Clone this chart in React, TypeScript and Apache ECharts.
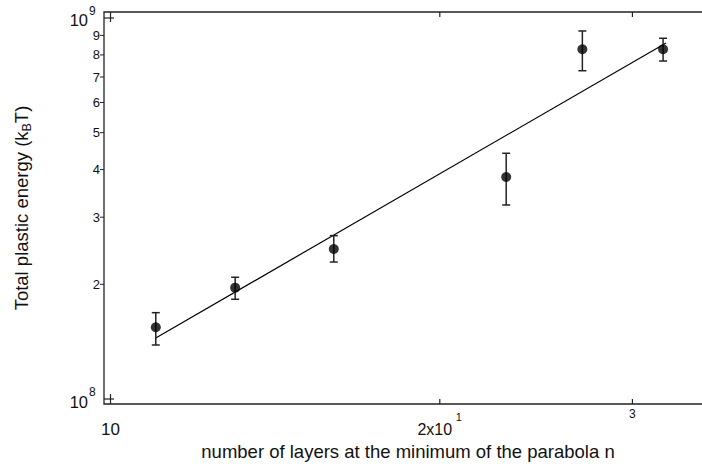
import React, { useEffect, useRef } from "react";
import * as echarts from "echarts";

// ---- data ----
const layersN = [11, 13, 16, 23, 27, 32];
const energy = [1.543e8, 1.96e8, 2.476e8, 3.825e8, 8.28e8, 8.28e8];
const errLow = [1.386e8, 1.827e8, 2.288e8, 3.23e8, 7.27e8, 7.71e8];
const errHigh = [1.685e8, 2.087e8, 2.684e8, 4.415e8, 9.245e8, 8.846e8];
const fitN = [11, 32.2];
const fitE = [1.446e8, 8.6e8];

const yMajorTicks = [1e8, 1e9];
const yMajorExp = ["8", "9"];
const yMinorTicks = [2e8, 3e8, 4e8, 5e8, 6e8, 7e8, 8e8, 9e8];
const yMinorLabels = ["2", "3", "4", "5", "6", "7", "8", "9"];
const xTicks = [10, 20, 30];
const xTickLabels = ["10", "2x10", "3"];
const xTickSups = ["", "1", ""];

const X_MIN = 9.864;
const X_MAX = 35.1;
const Y_MIN = 9.703e7;
const Y_MAX = 1.0368e9;

const FONT = "'Liberation Sans', Arial, sans-serif";
const AX = "#222";

export default function App() {
  const ref = useRef<HTMLDivElement>(null);
  useEffect(() => {
    document.body.style.margin = "0";
    const chart = echarts.init(ref.current!, null, { renderer: "svg" });

    const xLen = [10, 5, 5];
    const xLabelPos = [
      { dx: 0, dy: 25, size: 17 },
      { dx: -5, dy: 25, size: 16 },
      { dx: 0, dy: 10, size: 12 },
    ];

    chart.setOption({
      animation: false,
      grid: {
        left: 104,
        top: 12,
        width: 603,
        height: 392,
        outerBoundsMode: "none",
        containLabel: false,
        show: true,
        borderColor: AX,
        borderWidth: 1.3,
        backgroundColor: "transparent",
      },
      xAxis: {
        type: "log",
        logBase: 10,
        min: X_MIN,
        max: X_MAX,
        axisLine: { show: false },
        axisTick: { show: false },
        axisLabel: { show: false },
        splitLine: { show: false },
        minorTick: { show: false },
      },
      yAxis: {
        type: "log",
        logBase: 10,
        min: Y_MIN,
        max: Y_MAX,
        axisLine: { show: false },
        axisTick: { show: false },
        axisLabel: { show: false },
        splitLine: { show: false },
        minorTick: { show: false },
      },
      graphic: [
        {
          type: "text",
          x: 21,
          y: 208,
          rotation: Math.PI / 2,
          style: {
            text: "Total plastic energy (k{sub|B}T)",
            fontSize: 18.5,
            fontFamily: FONT,
            fill: "#111",
            align: "center",
            verticalAlign: "middle",
            rich: {
              sub: { fontSize: 12.5, fontFamily: FONT, fill: "#111", padding: [11, 0, 0, 0] },
            },
          },
        },
        {
          type: "text",
          x: 408,
          y: 451,
          style: {
            text: "number of layers at the minimum of the parabola n",
            fontSize: 18.5,
            fontFamily: FONT,
            fill: "#111",
            align: "center",
            verticalAlign: "middle",
          },
        },
      ],
      series: [
        {
          type: "line",
          data: fitN.map((n, i) => [n, fitE[i]]),
          symbol: "none",
          lineStyle: { color: "#000", width: 1.2 },
          silent: true,
          z: 3,
        },
        {
          type: "custom",
          data: layersN.map((n, i) => [n, errLow[i], errHigh[i]]),
          clip: false,
          silent: true,
          z: 4,
          renderItem: (params: any, api: any) => {
            const lo = api.coord([api.value(0), api.value(1)]);
            const hi = api.coord([api.value(0), api.value(2)]);
            const st = { stroke: AX, lineWidth: 1.5 };
            return {
              type: "group",
              children: [
                { type: "line", shape: { x1: lo[0], y1: lo[1], x2: hi[0], y2: hi[1] }, style: st },
                { type: "line", shape: { x1: lo[0] - 4, y1: lo[1], x2: lo[0] + 4, y2: lo[1] }, style: st },
                { type: "line", shape: { x1: hi[0] - 4, y1: hi[1], x2: hi[0] + 4, y2: hi[1] }, style: st },
              ],
            };
          },
        },
        {
          type: "scatter",
          data: layersN.map((n, i) => [n, energy[i]]),
          symbol: "circle",
          symbolSize: 10,
          itemStyle: { color: "#000" },
          silent: true,
          z: 5,
        },
        {
          // y minor ticks + labels (outward)
          type: "custom",
          data: yMinorTicks.map((v, i) => [X_MIN, v, i]),
          clip: false,
          silent: true,
          z: 6,
          renderItem: (params: any, api: any) => {
            const p = api.coord([api.value(0), api.value(1)]);
            const i = api.value(2);
            return {
              type: "group",
              children: [
                { type: "line", shape: { x1: p[0] - 4, y1: p[1], x2: p[0], y2: p[1] }, style: { stroke: AX, lineWidth: 1 } },
                {
                  type: "text",
                  x: p[0] - 4,
                  y: p[1],
                  style: { text: yMinorLabels[i], align: "right", verticalAlign: "middle", fontSize: 13, fontFamily: FONT, fill: "#111" },
                },
              ],
            };
          },
        },
        {
          // y major ticks (inward) + labels 10^n
          type: "custom",
          data: yMajorTicks.map((v, i) => [X_MIN, v, i]),
          clip: false,
          silent: true,
          z: 6,
          renderItem: (params: any, api: any) => {
            const p = api.coord([api.value(0), api.value(1)]);
            const i = api.value(2);
            return {
              type: "group",
              children: [
                { type: "line", shape: { x1: p[0], y1: p[1], x2: p[0] + 10, y2: p[1] }, style: { stroke: AX, lineWidth: 1.2 } },
                {
                  type: "text",
                  x: p[0] - 16,
                  y: p[1] + 2.5,
                  style: { text: "10", align: "right", verticalAlign: "middle", fontSize: 16.5, fontFamily: FONT, fill: "#111" },
                },
                {
                  type: "text",
                  x: p[0] - 15,
                  y: p[1] - 7,
                  style: { text: yMajorExp[i], align: "left", verticalAlign: "middle", fontSize: 12, fontFamily: FONT, fill: "#111" },
                },
              ],
            };
          },
        },
        {
          // x ticks (inward, bottom and top) + labels
          type: "custom",
          data: xTicks.map((v, i) => [v, Y_MIN, i]),
          clip: false,
          silent: true,
          z: 6,
          renderItem: (params: any, api: any) => {
            const p = api.coord([api.value(0), api.value(1)]);
            const q = api.coord([api.value(0), Y_MAX]);
            const i = api.value(2);
            const len = xLen[i];
            const lp = xLabelPos[i];
            const children: any[] = [
              { type: "line", shape: { x1: p[0], y1: p[1], x2: p[0], y2: p[1] - len }, style: { stroke: AX, lineWidth: 1.2 } },
              { type: "line", shape: { x1: q[0], y1: q[1], x2: q[0], y2: q[1] + len }, style: { stroke: AX, lineWidth: 1.2 } },
              {
                type: "text",
                x: p[0] + lp.dx,
                y: p[1] + lp.dy,
                style: { text: xTickLabels[i], align: "center", verticalAlign: "middle", fontSize: lp.size, fontFamily: FONT, fill: "#111" },
              },
            ];
            if (xTickSups[i]) {
              children.push({
                type: "text",
                x: p[0] + 16,
                y: p[1] + 13,
                style: { text: xTickSups[i], align: "left", verticalAlign: "middle", fontSize: 11, fontFamily: FONT, fill: "#111" },
              });
            }
            return { type: "group", children };
          },
        },
      ],
    });
    return () => chart.dispose();
  }, []);
  return <div ref={ref} style={{ width: 702, height: 467 }} />;
}
